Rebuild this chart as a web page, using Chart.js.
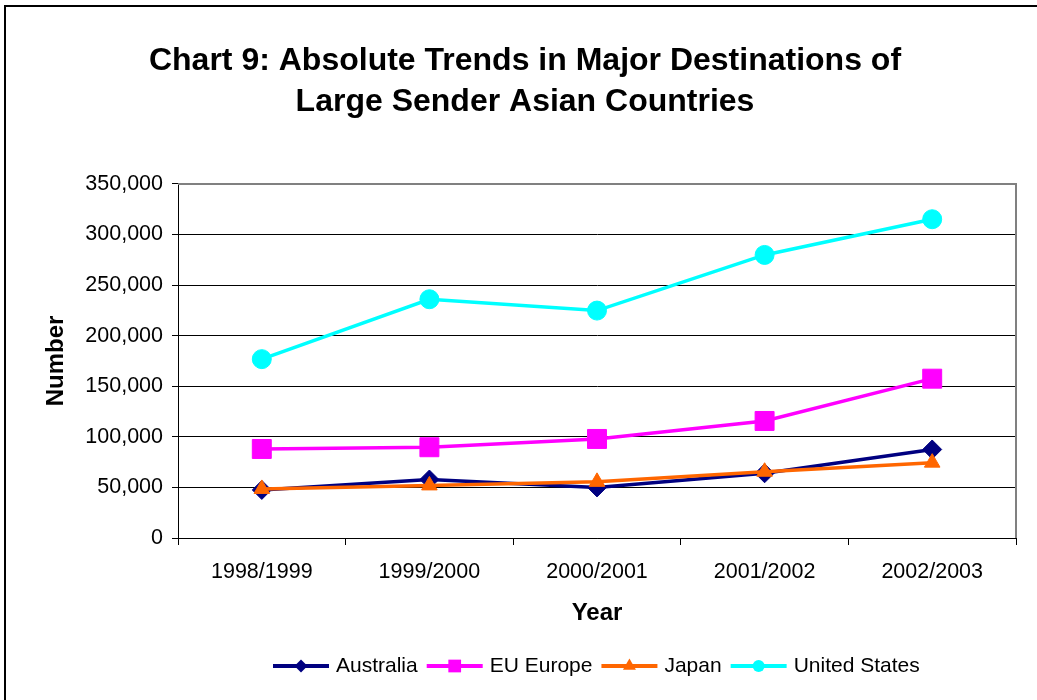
<!DOCTYPE html>
<html>
<head>
<meta charset="utf-8">
<script src="https://cdn.jsdelivr.net/npm/chart.js@4/dist/chart.umd.min.js"></script>
<style>
  html, body { margin: 0; padding: 0; overflow: hidden; background: #fff; }
  #frame { position: absolute; left: 4px; top: 5px; width: 1200px; height: 900px; border: 2px solid #000; }
  #wrap { position: absolute; left: 0; top: 0; width: 1037px; height: 700px; }
</style>
</head>
<body>
<div id="frame"></div>
<div id="wrap"><canvas id="chart" width="1037" height="700"></canvas></div>
<script>
const categories = ['1998/1999', '1999/2000', '2000/2001', '2001/2002', '2002/2003'];
const australia = [47500, 57800, 50000, 64000, 87500];
const euEurope = [88000, 89700, 97900, 115700, 157500];
const japan = [48500, 52000, 55500, 65500, 74500];
const unitedStates = [176800, 236000, 224800, 279800, 315100];
const yTicks = [0, 50000, 100000, 150000, 200000, 250000, 300000, 350000];

const FONT = '"Liberation Sans", Arial, sans-serif';

// Excel style legend: short line with the marker in the middle
function drawMarker(ctx, style, x, y, r) {
    ctx.beginPath();
    if (style === 'rectRot') {
        ctx.moveTo(x - r, y); ctx.lineTo(x, y - r); ctx.lineTo(x + r, y); ctx.lineTo(x, y + r);
    } else if (style === 'rect') {
        const s = r * Math.SQRT1_2;
        ctx.rect(x - s, y - s, 2 * s, 2 * s);
    } else if (style === 'triangle') {
        ctx.moveTo(x, y - r);
        ctx.lineTo(x + r * Math.sin(2 * Math.PI / 3), y - r * Math.cos(2 * Math.PI / 3));
        ctx.lineTo(x + r * Math.sin(4 * Math.PI / 3), y - r * Math.cos(4 * Math.PI / 3));
    } else {
        ctx.arc(x, y, r, 0, Math.PI * 2);
    }
    ctx.closePath();
    ctx.fill();
}

const legendPlugin = {
    id: 'excelLegend',
    afterDraw(chart) {
        const ctx = chart.ctx;
        let x = 273;
        const y = 666;
        ctx.save();
        ctx.font = '21px ' + FONT;
        ctx.textBaseline = 'middle';
        chart.data.datasets.forEach(ds => {
            ctx.strokeStyle = ds.borderColor;
            ctx.lineWidth = 4;
            ctx.beginPath();
            ctx.moveTo(x, y);
            ctx.lineTo(x + 56, y);
            ctx.stroke();
            ctx.fillStyle = ds.backgroundColor;
            drawMarker(ctx, ds.pointStyle, x + 28, y, ds.legendRadius);
            ctx.fillStyle = '#000';
            ctx.fillText(ds.label, x + 63, y);
            x += 63 + ctx.measureText(ds.label).width + 9;
        });
        ctx.restore();
    }
};

// grey plot area frame on top and right
const framePlugin = {
    id: 'plotFrame',
    beforeDatasetsDraw(chart) {
        const {ctx, chartArea: a} = chart;
        ctx.save();
        ctx.strokeStyle = '#808080';
        ctx.lineWidth = 2;
        ctx.beginPath();
        ctx.moveTo(a.left, a.top);
        ctx.lineTo(a.right, a.top);
        ctx.lineTo(a.right, a.bottom);
        ctx.stroke();
        ctx.restore();
    }
};

function series(label, data, color, style, radius, legendRadius, order) {
    return {
        label, data,
        borderColor: color,
        backgroundColor: color,
        borderWidth: 3.5,
        tension: 0,
        pointStyle: style,
        pointRadius: radius,
        pointHoverRadius: radius,
        pointBorderWidth: 1,
        pointBorderColor: color,
        pointBackgroundColor: color,
        legendRadius,
        order
    };
}

new Chart(document.getElementById('chart'), {
    type: 'line',
    data: {
        labels: categories,
        datasets: [
            series('Australia', australia, '#000080', 'rectRot', 9.5, 6.5, 4),
            series('EU Europe', euEurope, '#FF00FF', 'rect', 13.4, 9, 3),
            series('Japan', japan, '#FF6600', 'triangle', 9, 7.5, 2),
            series('United States', unitedStates, '#00FFFF', 'circle', 9.5, 6, 1)
        ]
    },
    options: {
        responsive: false,
        animation: false,
        devicePixelRatio: 1,
        layout: { padding: { left: 34, right: 21, top: 0, bottom: 52 } },
        plugins: {
            legend: { display: false },
            tooltip: { enabled: false },
            title: {
                display: true,
                text: ['Chart 9: Absolute Trends in Major Destinations of', 'Large Sender Asian Countries'],
                color: '#000',
                font: { family: FONT, size: 32, weight: 'bold', lineHeight: 1.28 },
                padding: { top: 41, bottom: 61 }
            }
        },
        scales: {
            x: {
                offset: true,
                afterFit(scale) { scale.height = 110; },
                grid: { offset: true, drawOnChartArea: false, drawTicks: true, tickLength: 7, color: '#000' },
                border: { color: '#000', width: 1 },
                ticks: { padding: 14, color: '#000', font: { family: FONT, size: 21.5 } },
                title: {
                    display: true, text: 'Year', color: '#000',
                    font: { family: FONT, size: 24, weight: 'bold' },
                    padding: { top: 0, bottom: 20 }
                }
            },
            y: {
                min: 0,
                max: 350000,
                afterFit(scale) { scale.width = 144; },
                afterBuildTicks(scale) { scale.ticks = yTicks.map(v => ({ value: v })); },
                grid: { color: '#000', lineWidth: 1, drawTicks: true, tickLength: 6 },
                border: { color: '#000', width: 1 },
                ticks: {
                    padding: 9, color: '#000', font: { family: FONT, size: 21.5 },
                    callback: v => v.toLocaleString('en-US')
                },
                title: {
                    display: true, text: 'Number', color: '#000',
                    font: { family: FONT, size: 24, weight: 'bold' },
                    padding: { top: 8, bottom: 0 }
                }
            }
        }
    },
    plugins: [framePlugin, legendPlugin]
});
</script>
</body>
</html>
